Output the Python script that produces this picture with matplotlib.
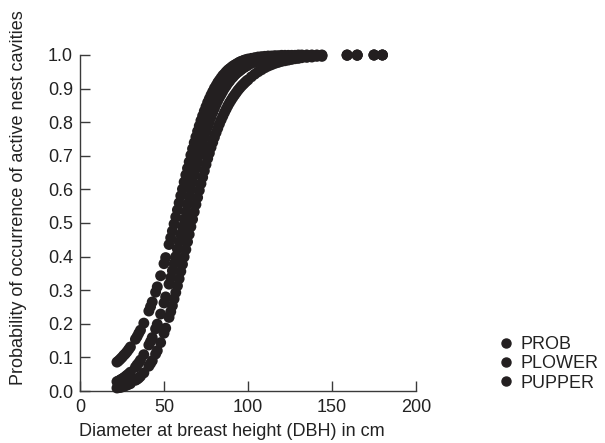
import matplotlib
matplotlib.use("Agg")
import matplotlib.pyplot as plt
from matplotlib.lines import Line2D

dbh = [22, 23, 24, 25, 26, 27, 28, 29, 30, 33, 34, 35, 36, 38, 41, 42, 43, 45, 46, 48,
       50, 51, 53, 54, 55, 56, 57, 58, 59, 60, 61, 62, 63, 64, 65, 66, 67, 68, 69, 70,
       71, 72, 73, 74, 75, 76, 77, 78, 79, 80, 81, 82, 83, 84, 85, 86, 87, 88, 89, 90,
       91, 92, 93, 94, 95, 96, 97, 98, 99, 100, 102, 104, 106, 108, 110, 112, 114, 116,
       118, 120, 122, 124, 126, 128, 130, 132, 135, 138, 141, 144, 159, 165, 175, 180]

prob = [0.028, 0.030, 0.033, 0.036, 0.039, 0.043, 0.047, 0.051, 0.056, 0.071, 0.078, 0.084,
        0.092, 0.108, 0.137, 0.147, 0.159, 0.185, 0.199, 0.229, 0.262, 0.280, 0.318, 0.337,
        0.358, 0.379, 0.400, 0.422, 0.444, 0.466, 0.489, 0.511, 0.534, 0.556, 0.578, 0.600,
        0.621, 0.642, 0.663, 0.682, 0.702, 0.720, 0.738, 0.755, 0.771, 0.787, 0.801, 0.815,
        0.829, 0.841, 0.853, 0.864, 0.874, 0.883, 0.892, 0.901, 0.908, 0.916, 0.922, 0.929,
        0.934, 0.940, 0.945, 0.949, 0.953, 0.957, 0.961, 0.964, 0.967, 0.970, 0.975, 0.979,
        0.982, 0.985, 0.988, 0.990, 0.991, 0.993, 0.994, 0.995, 0.996, 0.996, 0.997, 0.998,
        0.998, 0.998, 0.999, 0.999, 0.999, 0.999, 1.000, 1.000, 1.000, 1.000]

plower = [0.009, 0.010, 0.011, 0.012, 0.014, 0.016, 0.018, 0.020, 0.022, 0.032, 0.035, 0.039,
          0.044, 0.054, 0.074, 0.082, 0.090, 0.110, 0.120, 0.144, 0.172, 0.187, 0.219, 0.236,
          0.254, 0.274, 0.293, 0.313, 0.334, 0.356, 0.377, 0.399, 0.421, 0.444, 0.466, 0.489,
          0.511, 0.533, 0.555, 0.576, 0.597, 0.617, 0.636, 0.655, 0.674, 0.692, 0.708, 0.725,
          0.740, 0.755, 0.769, 0.782, 0.795, 0.807, 0.818, 0.829, 0.839, 0.849, 0.858, 0.866,
          0.874, 0.881, 0.888, 0.895, 0.901, 0.907, 0.912, 0.917, 0.922, 0.926, 0.935, 0.943,
          0.950, 0.956, 0.962, 0.967, 0.971, 0.975, 0.978, 0.981, 0.983, 0.985, 0.987, 0.989,
          0.990, 0.992, 0.993, 0.994, 0.996, 0.996, 0.999, 0.999, 1.000, 1.000]

pupper = [0.086, 0.090, 0.095, 0.100, 0.106, 0.111, 0.117, 0.124, 0.131, 0.154, 0.162, 0.172,
          0.181, 0.202, 0.238, 0.251, 0.265, 0.294, 0.310, 0.343, 0.379, 0.397, 0.436, 0.456,
          0.476, 0.497, 0.518, 0.539, 0.560, 0.581, 0.601, 0.622, 0.643, 0.663, 0.682, 0.702,
          0.721, 0.739, 0.756, 0.773, 0.789, 0.805, 0.819, 0.833, 0.846, 0.859, 0.870, 0.881,
          0.891, 0.901, 0.909, 0.918, 0.925, 0.932, 0.939, 0.944, 0.950, 0.955, 0.959, 0.963,
          0.967, 0.970, 0.973, 0.976, 0.979, 0.981, 0.983, 0.985, 0.986, 0.988, 0.990, 0.992,
          0.994, 0.995, 0.996, 0.997, 0.997, 0.998, 0.998, 0.999, 0.999, 0.999, 0.999, 0.999,
          1.000, 1.000, 1.000, 1.000, 1.000, 1.000, 1.000, 1.000, 1.000, 1.000]

series_names = ["PROB", "PLOWER", "PUPPER"]
x_ticks = [0, 50, 100, 150, 200]
y_ticks = [0.0, 0.1, 0.2, 0.3, 0.4, 0.5, 0.6, 0.7, 0.8, 0.9, 1.0]

plt.rcParams['font.family'] = ['Liberation Sans', 'DejaVu Sans']
dot = '#231f20'
axcol = '#3a3a3a'
txt = '#222222'

fig = plt.figure(figsize=(6.05, 4.43), dpi=100)
ax = fig.add_axes([80 / 605, 52 / 443, 336 / 605, 336 / 443])

for vals in (prob, plower, pupper):
    ax.scatter(dbh, vals, s=62, marker='o', color=dot, edgecolors='none', clip_on=False, zorder=3)

ax.set_xlim(0, 200)
ax.set_ylim(0, 1.0)
ax.set_xticks(x_ticks)
ax.set_xticklabels([str(t) for t in x_ticks])
ax.set_yticks(y_ticks)
ax.set_yticklabels([f"{t:.1f}" for t in y_ticks])
for side in ('top', 'right'):
    ax.spines[side].set_visible(False)
for side in ('left', 'bottom'):
    ax.spines[side].set_color(axcol)
    ax.spines[side].set_linewidth(1.0)
ax.tick_params(direction='in', length=7, width=1.0, color=axcol, labelsize=13,
               labelcolor=txt)
ax.tick_params(axis='y', pad=5)
ax.tick_params(axis='x', pad=6)
ax.set_xlabel("Diameter at breast height (DBH) in cm", fontsize=13, color=txt)
ax.set_ylabel("Probability of occurrence of active nest cavities", fontsize=13, color=txt)
ax.xaxis.set_label_coords(0.452, -0.094)
ax.xaxis.label.set_va('top')
ax.yaxis.set_label_coords(-0.158, 0.577)

handles = [Line2D([], [], linestyle='none', marker='o', markersize=6.5, color=dot) for _ in series_names]
fig.legend(handles, series_names, loc='upper left', bbox_to_anchor=(492 / 605, 1 - 329 / 443),
           frameon=False, fontsize=13, handlelength=0.8, handletextpad=0.4,
           labelspacing=0.12, borderaxespad=0, labelcolor=txt)

fig.savefig("out.png", dpi=100)
